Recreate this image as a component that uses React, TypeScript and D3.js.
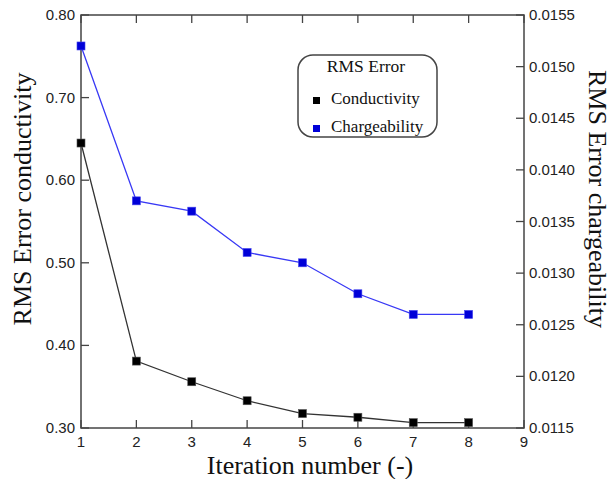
import React from "react";
import * as d3 from "d3";

const iterations = [1, 2, 3, 4, 5, 6, 7, 8];
const conductivityRms = [0.645, 0.381, 0.356, 0.333, 0.3175, 0.313, 0.3065, 0.3065];
const chargeabilityRms = [0.0152, 0.0137, 0.0136, 0.0132, 0.0131, 0.0128, 0.0126, 0.0126];
const xTicks = [1, 2, 3, 4, 5, 6, 7, 8, 9];
const leftTicks = [0.3, 0.4, 0.5, 0.6, 0.7, 0.8];
const rightTicks = [0.0115, 0.012, 0.0125, 0.013, 0.0135, 0.014, 0.0145, 0.015, 0.0155];

const W = 613;
const H = 479;
const left = 81;
const right = 524;
const top = 15;
const bottom = 428;
const tickLen = 8;
const axisColor = "#444";
const tickFont = "Arial, 'Liberation Sans', sans-serif";
const serif = "'Liberation Serif', 'Times New Roman', serif";

export default function App() {
  const x = d3.scaleLinear().domain([1, 9]).range([left, right]);
  const yL = d3.scaleLinear().domain([0.3, 0.8]).range([bottom, top]);
  const yR = d3.scaleLinear().domain([0.0115, 0.0155]).range([bottom, top]);

  const condLine = d3
    .line<number>()
    .x((_, i) => x(iterations[i]))
    .y((d) => yL(d))(conductivityRms);
  const chargeLine = d3
    .line<number>()
    .x((_, i) => x(iterations[i]))
    .y((d) => yR(d))(chargeabilityRms);

  const ms = 8;

  return (
    <svg
      width={W}
      height={H}
      style={{ position: "absolute", left: 0, top: 0, background: "#fff" }}
    >
      {/* frame */}
      <rect
        x={left}
        y={top}
        width={right - left}
        height={bottom - top}
        fill="none"
        stroke={axisColor}
        strokeWidth={1.5}
      />
      {/* x ticks: bottom and top, pointing inward */}
      {xTicks.map((t) => (
        <g key={"x" + t}>
          <line x1={x(t)} x2={x(t)} y1={bottom} y2={bottom - tickLen} stroke={axisColor} strokeWidth={1.3} />
          <line x1={x(t)} x2={x(t)} y1={top} y2={top + tickLen} stroke={axisColor} strokeWidth={1.3} />
          <text
            x={x(t)}
            y={447}
            textAnchor="middle"
            fontFamily={tickFont}
            fontSize={15}
            fill="#222"
          >
            {t}
          </text>
        </g>
      ))}
      {/* left axis ticks */}
      {leftTicks.map((t) => (
        <g key={"l" + t}>
          <line x1={left} x2={left + tickLen} y1={yL(t)} y2={yL(t)} stroke={axisColor} strokeWidth={1.3} />
          <text
            x={75}
            y={yL(t) + 5}
            textAnchor="end"
            fontFamily={tickFont}
            fontSize={15}
            fill="#222"
          >
            {t.toFixed(2)}
          </text>
        </g>
      ))}
      {/* right axis ticks */}
      {rightTicks.map((t) => (
        <g key={"r" + t}>
          <line x1={right} x2={right - tickLen} y1={yR(t)} y2={yR(t)} stroke={axisColor} strokeWidth={1.3} />
          <text
            x={529}
            y={yR(t) + 5}
            textAnchor="start"
            fontFamily={tickFont}
            fontSize={15}
            fill="#222"
          >
            {t.toFixed(4)}
          </text>
        </g>
      ))}

      {/* series */}
      <path d={condLine ?? ""} fill="none" stroke="#333" strokeWidth={1.3} />
      <path d={chargeLine ?? ""} fill="none" stroke="#3838f5" strokeWidth={1.3} />
      {conductivityRms.map((v, i) => (
        <rect
          key={"c" + i}
          x={x(iterations[i]) - ms / 2}
          y={yL(v) - ms / 2}
          width={ms}
          height={ms}
          fill="#000"
          stroke="#555"
          strokeWidth={0.6}
        />
      ))}
      {chargeabilityRms.map((v, i) => (
        <rect
          key={"q" + i}
          x={x(iterations[i]) - ms / 2}
          y={yR(v) - ms / 2}
          width={ms}
          height={ms}
          fill="#0000d8"
          stroke="#4444ee"
          strokeWidth={0.6}
        />
      ))}

      {/* axis titles */}
      <text
        x={310}
        y={474}
        textAnchor="middle"
        fontFamily={serif}
        fontSize={26}
        fill="#111"
      >
        Iteration number (-)
      </text>
      <text
        transform={`translate(31, 199) rotate(-90)`}
        textAnchor="middle"
        fontFamily={serif}
        fontSize={26}
        fill="#111"
      >
        RMS Error conductivity
      </text>
      <text
        transform={`translate(589, 199) rotate(90)`}
        textAnchor="middle"
        fontFamily={serif}
        fontSize={26}
        fill="#111"
      >
        RMS Error chargeability
      </text>

      {/* legend */}
      <rect
        x={298}
        y={55}
        width={139}
        height={82}
        rx={15}
        ry={15}
        fill="#fff"
        stroke={axisColor}
        strokeWidth={1.5}
      />
      <text x={366} y={72} textAnchor="middle" fontFamily={serif} fontSize={17.5} fill="#111">
        RMS Error
      </text>
      <rect x={313} y={97} width={7} height={7} fill="#000" />
      <text x={331} y={104} fontFamily={serif} fontSize={17} fill="#111">
        Conductivity
      </text>
      <rect x={313} y={125} width={7} height={7} fill="#0000d8" />
      <text x={331} y={132} fontFamily={serif} fontSize={17} fill="#111">
        Chargeability
      </text>
    </svg>
  );
}
